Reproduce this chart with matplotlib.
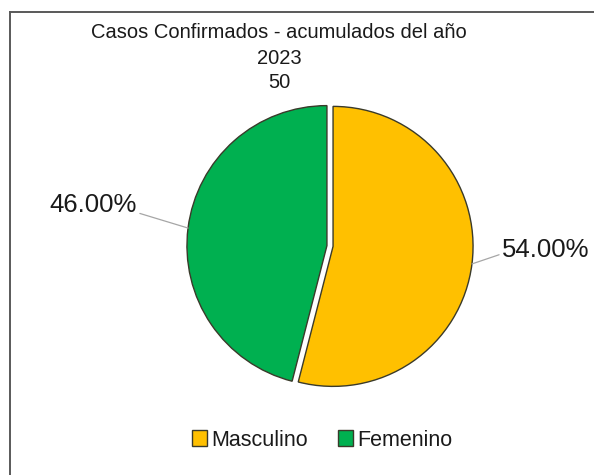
import numpy as np
import matplotlib
matplotlib.use("Agg")
import matplotlib.pyplot as plt
from matplotlib.lines import Line2D
from matplotlib.patches import Patch

plt.rcParams["font.family"] = ["Liberation Sans", "DejaVu Sans"]

categories = ["Masculino", "Femenino"]
shares = [54.0, 46.0]
colors = ["#FFC000", "#00B050"]
title_lines = ["Casos Confirmados - acumulados del año", "2023", "50"]

W, H = 594, 475
cx, cy, R = 330, 246, 140  # pie centre and radius in pixels

fig = plt.figure(figsize=(W / 100, H / 100), dpi=100)
ax = fig.add_axes([0, 0, 1, 1])

explode = [0.022, 0.022]
wedges, _ = ax.pie(
    shares,
    colors=colors,
    startangle=90,
    counterclock=False,
    explode=explode,
    wedgeprops=dict(edgecolor="#3a3a2a", linewidth=1.0),
)
ax.set_xlim(-cx / R, (W - cx) / R)
ax.set_ylim(-(H - cy) / R, cy / R)
ax.set_aspect("equal")
ax.axis("off")

# percentage labels with leader lines
text_pos = [(1.54, -0.03), (-1.69, 0.29)]
for w, val, ex, tp in zip(wedges, shares, explode, text_pos):
    mid = np.deg2rad((w.theta1 + w.theta2) / 2)
    r = 1 + ex
    xy = (r * np.cos(mid), r * np.sin(mid))
    ha = "left" if tp[0] > 0 else "right"
    tx = tp[0] - 0.3 if tp[0] > 0 else tp[0] + 0.33
    ax.annotate(
        f"{val:.2f}%",
        xy=xy,
        xytext=(tp[0], tp[1]),
        ha="center",
        va="center",
        fontsize=18.5,
        color="#1a1a1a",
        arrowprops=dict(arrowstyle="-", color="#a6a6a6", lw=0.9,
                        shrinkA=0, shrinkB=0,
                        relpos=(0, 0.35) if tp[0] > 0 else (1, 0.2)),
    )

# title
for i, line in enumerate(title_lines):
    fig.text(279 / W, 1 - (33 + 25 * i) / H, line, ha="center", va="center",
             fontsize=14.5, color="#1a1a1a")

# legend
handles = [Patch(facecolor=c, edgecolor="#3a3a2a", linewidth=1.0) for c in colors]
fig.legend(handles, categories, loc="center", bbox_to_anchor=(322 / W, 1 - 440 / H),
           ncol=2, frameon=False, fontsize=15.5, handlelength=0.7, handleheight=0.7,
           handletextpad=0.2, columnspacing=1.4, labelcolor="#1a1a1a")

# outer frame (only top and left edges visible in the crop)
fig.add_artist(Line2D([9.5 / W, 1], [1 - 11.5 / H] * 2, color="#595959", lw=1.4))
fig.add_artist(Line2D([9.5 / W] * 2, [0, 1 - 11.5 / H], color="#595959", lw=1.4))

fig.savefig("out.png", dpi=100, facecolor="white")
